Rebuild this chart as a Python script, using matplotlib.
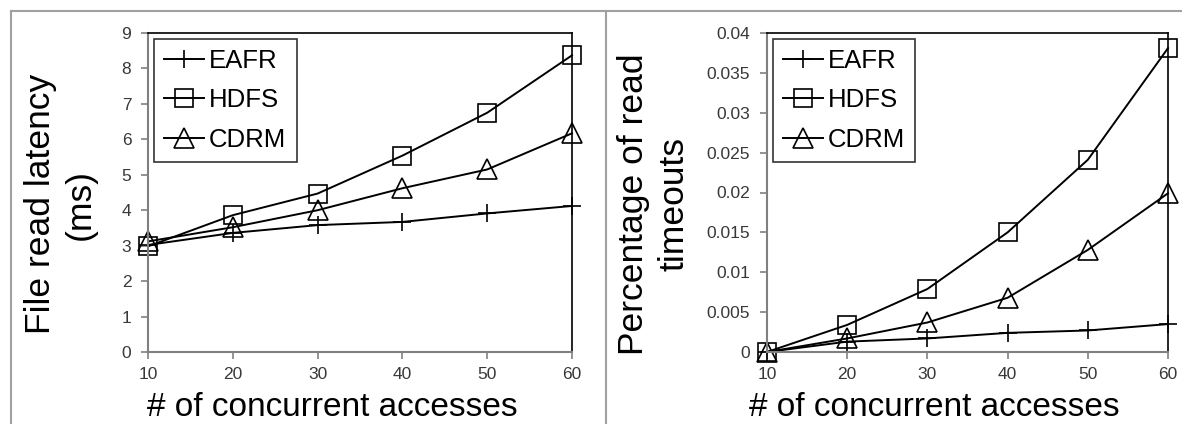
import matplotlib
matplotlib.use("Agg")
import matplotlib.pyplot as plt
from matplotlib.lines import Line2D

plt.rcParams["font.family"] = ["Liberation Sans", "DejaVu Sans"]

accesses = [10, 20, 30, 40, 50, 60]

latency_eafr = [3.02, 3.36, 3.58, 3.67, 3.91, 4.12]
latency_hdfs = [2.98, 3.86, 4.47, 5.54, 6.75, 8.37]
latency_cdrm = [3.12, 3.52, 4.0, 4.62, 5.15, 6.17]

timeout_eafr = [0.0, 0.0013, 0.0017, 0.0024, 0.0027, 0.0035]
timeout_hdfs = [0.0, 0.0034, 0.0079, 0.0150, 0.0241, 0.0381]
timeout_cdrm = [0.0, 0.0017, 0.0037, 0.0068, 0.0128, 0.0199]

W, H = 1182, 424
fig = plt.figure(figsize=(W / 100, H / 100), dpi=100)


def px_axes(x0, x1, ytop, ybot):
    return fig.add_axes([x0 / W, 1 - ybot / H, (x1 - x0) / W, (ybot - ytop) / H])


def style(ax, ylim, yticks, ytick_labels):
    ax.set_xlim(10, 60)
    ax.set_ylim(*ylim)
    ax.set_xticks(accesses)
    ax.set_yticks(yticks)
    ax.set_yticklabels(ytick_labels)
    ax.tick_params(direction="out", length=5, width=1.2, color="#808080",
                   labelsize=12.5, labelcolor="#383838")
    ax.tick_params(axis="y", pad=7)
    ax.tick_params(axis="x", pad=6)
    for side in ("left", "bottom"):
        ax.spines[side].set_color("#808080")
        ax.spines[side].set_linewidth(1.5)
    for side in ("top", "right"):
        ax.spines[side].set_color("black")
        ax.spines[side].set_linewidth(1.2)
    ax.patch.set_alpha(0)


def draw(ax, eafr, hdfs, cdrm):
    kw = dict(color="black", lw=1.4, markerfacecolor="none", markeredgecolor="black",
              markeredgewidth=1.2, clip_on=False)
    ax.plot(accesses, eafr, marker="+", markersize=13, label="EAFR", **kw)
    ax.plot(accesses, hdfs, marker="s", markersize=13, label="HDFS", **kw)
    ax.plot(accesses, cdrm, marker="^", markersize=14, label="CDRM", **kw)
    leg = ax.legend(loc="upper left", bbox_to_anchor=(0.014, 0.982), fontsize=18.5,
                    frameon=True, fancybox=False, edgecolor="black", handlelength=1.55,
                    handletextpad=0.2, borderpad=0.4, labelspacing=0.6,
                    borderaxespad=0.0)
    leg.get_frame().set_linewidth(1.2)


ax1 = px_axes(148, 572, 33, 352)
draw(ax1, latency_eafr, latency_hdfs, latency_cdrm)
style(ax1, (0, 9), range(0, 10), [str(v) for v in range(0, 10)])
ax1.set_xlabel("# of concurrent accesses", fontsize=24)
ax1.xaxis.set_label_coords(332 / W, 1 - 392 / H, transform=fig.transFigure)
ax1.set_ylabel("File read latency\n(ms)", fontsize=25.5, linespacing=1.25)
ax1.yaxis.set_label_coords(97 / W, 1 - 204 / H, transform=fig.transFigure)

ax2 = px_axes(767, 1168, 33, 352)
draw(ax2, timeout_eafr, timeout_hdfs, timeout_cdrm)
yt = [0, 0.005, 0.01, 0.015, 0.02, 0.025, 0.03, 0.035, 0.04]
style(ax2, (0, 0.04), yt, ["0", "0.005", "0.01", "0.015", "0.02", "0.025", "0.03", "0.035", "0.04"])
ax2.set_xlabel("# of concurrent accesses", fontsize=24)
ax2.xaxis.set_label_coords(934 / W, 1 - 392 / H, transform=fig.transFigure)
ax2.set_ylabel("Percentage of read\ntimeouts", fontsize=25.5, linespacing=1.25)
ax2.yaxis.set_label_coords(690 / W, 1 - 204 / H, transform=fig.transFigure)

# grey panel frames around the two charts
frame = dict(color="#a0a0a0", lw=1.5, transform=fig.transFigure)
fig.add_artist(Line2D([11 / W, 1], [1 - 11 / H, 1 - 11 / H], **frame))
fig.add_artist(Line2D([11 / W, 11 / W], [0, 1 - 11 / H], **frame))
fig.add_artist(Line2D([606 / W, 606 / W], [0, 1 - 11 / H], **frame))

fig.savefig("out.png", dpi=100)
